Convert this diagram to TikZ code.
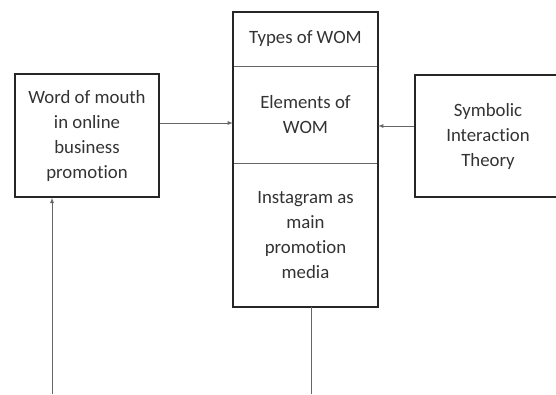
\documentclass[tikz,border=0pt]{standalone}
\usepackage{fontspec}
\setmainfont{Carlito}[Ligatures=NoCommon]
\usetikzlibrary{positioning}

\tikzset{
  box/.style={draw=black!85, line width=1.6pt},
  part/.style={minimum width=145pt, align=center, inner sep=0pt},
  link/.style={draw=black!60, line width=0.8pt},
}

\begin{document}
\begin{tikzpicture}[x=1pt, y=-1pt, font=\fontsize{18.8}{25}\selectfont, text=black!80]
    \useasboundingbox (0,0) rectangle (556,394);
    \clip (0,0) rectangle (556,394);

    % left box
    \node[box, part, minimum width=144pt, minimum height=123pt] (wom) at (87,135.5)
        {Word of mouth\\in online\\business\\promotion};

    % middle column, three parts
    \node[part, minimum height=54pt] (types) at (305.5,39) {Types of WOM};
    \node[part, minimum height=97pt, below=0pt of types] (elem) {Elements of\\WOM};
    \node[part, minimum height=143pt, below=0pt of elem] (media) {Instagram as\\main\\promotion\\media};
    \draw[link] (types.south west) -- (types.south east);
    \draw[link] (elem.south west) -- (elem.south east);
    \draw[box] (types.north west) rectangle (media.south east);

    % right box
    \node[box, part, minimum width=146pt, minimum height=122pt] (sym) at (488,136)
        {Symbolic\\Interaction\\Theory};

    % connectors
    \draw[link, -latex] ([yshift=12.5pt]wom.east) -- ([yshift=12.5pt]wom.east -| types.west);
    \draw[link, -latex] ([yshift=10pt]sym.west) -- ([yshift=10pt]sym.west -| types.east);

    \coordinate (srcA) at (52,394);
    \coordinate (srcB) at (311,394);
    \draw[link, -latex] (srcA) -- (srcA |- wom.south);
    \draw[link] (srcB |- media.south) -- (srcB);
\end{tikzpicture}
\end{document}
